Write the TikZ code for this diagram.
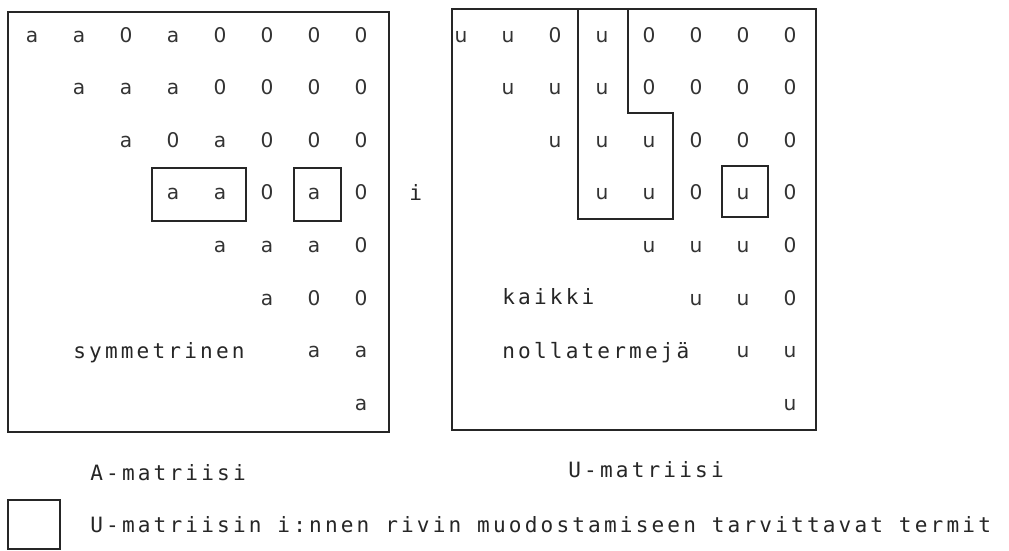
\documentclass[tikz,border=0pt]{standalone}
\usepackage{fontspec}
\newfontfamily\cellfont{DejaVu Sans}
\newfontfamily\dotfont[LetterSpace=15]{DejaVu Sans Mono}
\usetikzlibrary{positioning}

\begin{document}
\begin{tikzpicture}[x=.02cm,y=-.02cm]
\tikzset{frame/.style={line width=1.1pt,draw=black!85},
pick/.style={line width=.9pt,draw=black!85},
cell/.style={font=\cellfont\fontsize{11.5}{13}\selectfont,inner sep=0pt,anchor=base,text=black!80},
txt/.style={font=\dotfont\fontsize{12}{14}\selectfont,inner sep=0pt,anchor=base west,text=black!85}}
\useasboundingbox (0,0) rectangle (1009,551);
% A: symmetric matrix
\draw[frame] (8,12) rectangle (389,432);
\foreach \r/\ents in {1/{a,a,0,a,0,0,0,0},2/{a,a,a,0,0,0,0},3/{a,0,a,0,0,0},4/{a,a,0,a,0},
 5/{a,a,a,0},6/{a,0,0},7/{a,a},8/{a}}{
 \foreach \e [count=\k from \r] in \ents{
  \node[cell] (A-\r-\k) at ({32+47*(\k-1)},{42+52.6*(\r-1)}) {\e};}}
\draw[pick] (152,168) rectangle (246,221);
\draw[pick] (294,168) rectangle (341,221);
\node[txt] (arow) at (409,200) {i};
\node[txt] (asym) at (73,358) {symmetrinen};
\node[txt] (alab) at (90,480) {A-matriisi};
% U: factor matrix
\draw[frame] (452,9) rectangle (816,430);
\foreach \r/\ents in {1/{u,u,0,u,0,0,0,0},2/{u,u,u,0,0,0,0},3/{u,u,u,0,0,0},4/{u,u,0,u,0},
 5/{u,u,u,0},6/{u,u,0},7/{u,u},8/{u}}{
 \foreach \e [count=\k from \r] in \ents{
  \node[cell] (U-\r-\k) at ({461+47*(\k-1)},{42+52.6*(\r-1)}) {\e};}}
\draw[pick] (578,9)--(578,219)--(673,219)--(673,113)--(628,113)--(628,9);
\draw[pick] (722,166) rectangle (768,217);
\node[txt] (ukai) at (502,304) {kaikki};
\node[txt] (unol) at (502,358) {nollatermejä};
\node[txt] (ulab) at (568,477) {U-matriisi};
% key
\draw[frame] (8,500) rectangle (60,549);
\node[txt] (key) at (90,532) {U-matriisin i:nnen rivin muodostamiseen tarvittavat termit};
\end{tikzpicture}
\end{document}
